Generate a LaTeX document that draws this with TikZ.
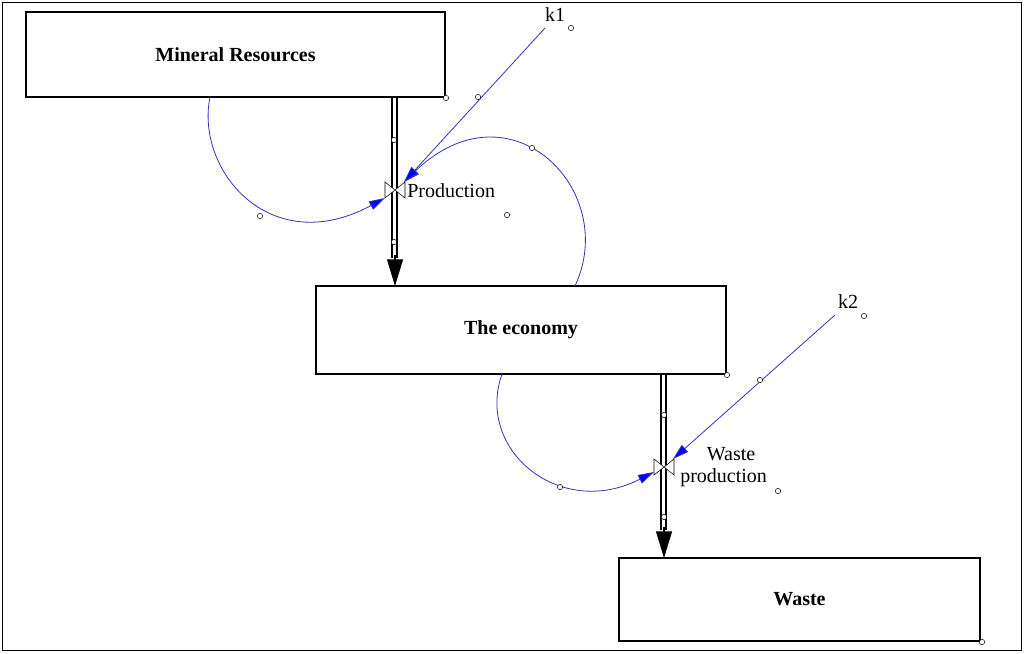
\documentclass[tikz,border=0pt]{standalone}
\usepackage{fontspec}
\setmainfont{Liberation Serif}
\usetikzlibrary{arrows.meta,calc}
\begin{document}
\begin{tikzpicture}[x=0.75pt,y=-0.75pt,
 stock/.style={draw,thick,minimum width=0,inner sep=0,font=\bfseries\fontsize{15}{17}\selectfont},
 link/.style={draw={rgb,255:red,50;green,50;blue,190},semithick,-{Triangle[fill=blue,length=12pt,width=7pt]}},
 dot/.style={draw,circle,fill=white,inner sep=0,minimum size=4pt},
 lbl/.style={font=\fontsize{15}{16}\selectfont,inner sep=0}]
\path[use as bounding box] (0,0) rectangle (1024,653);
\draw (2,2) rectangle (1021,650);
\node[stock,minimum width=419*0.75pt,minimum height=85*0.75pt] (mr) at (235.5,54.5) {Mineral Resources};
\node[stock,minimum width=410*0.75pt,minimum height=88*0.75pt] (ec) at (521,330) {The economy};
\node[stock,minimum width=361*0.75pt,minimum height=83*0.75pt] (wa) at (799.5,599.5) {Waste};
% pipes
\coordinate (v1) at (395,190); \coordinate (v2) at (664,467);
\draw[thick] (392,98) -- (392,258) (397,98) -- (397,258);
\draw[-{Triangle[length=20pt,width=12pt]},thick] (395,255) -- (395,286);
\draw[thick] (661,375) -- (661,530) (666,375) -- (666,530);
\draw[-{Triangle[length=20pt,width=12pt]},thick] (664,527) -- (664,558);
% valves
\foreach \v in {v1,v2}{
 \draw[fill=white] ($(\v)+(-10,-8)$) -- ($(\v)+(10,8)$) -- ($(\v)+(10,-8)$) -- ($(\v)+(-10,8)$) -- cycle;}
\node[lbl,anchor=west] (p1) at (407,191) {Production};
\node[lbl,align=left,anchor=west] (p2) at (680,467) {\hspace*{20pt}Waste\\production};
\node[lbl] (k1) at (555,15) {k1};
\node[lbl] (k2) at (848,302) {k2};
% links
\draw[link] (210,97) .. controls (195,170) and (270,260) .. (385,198);
\draw[link] (575,286) .. controls (620,190) and (510,80) .. (404,182);
\draw[link] (545,28) -- (404,182);
\draw[link] (835,315) -- (673,459);
\draw[link] (502,374) .. controls (475,450) and (560,520) .. (654,472);
% dots
\foreach \p in {(446,98),(727,375),(982,642),(571,28),(864,316),(507,215),(778,491),
 (394,140),(394,242),(664,415),(664,517),(478,97),(760,380),(260,216),(532,148),(560,487)}
 \node[dot] at \p {};
\end{tikzpicture}
\end{document}
